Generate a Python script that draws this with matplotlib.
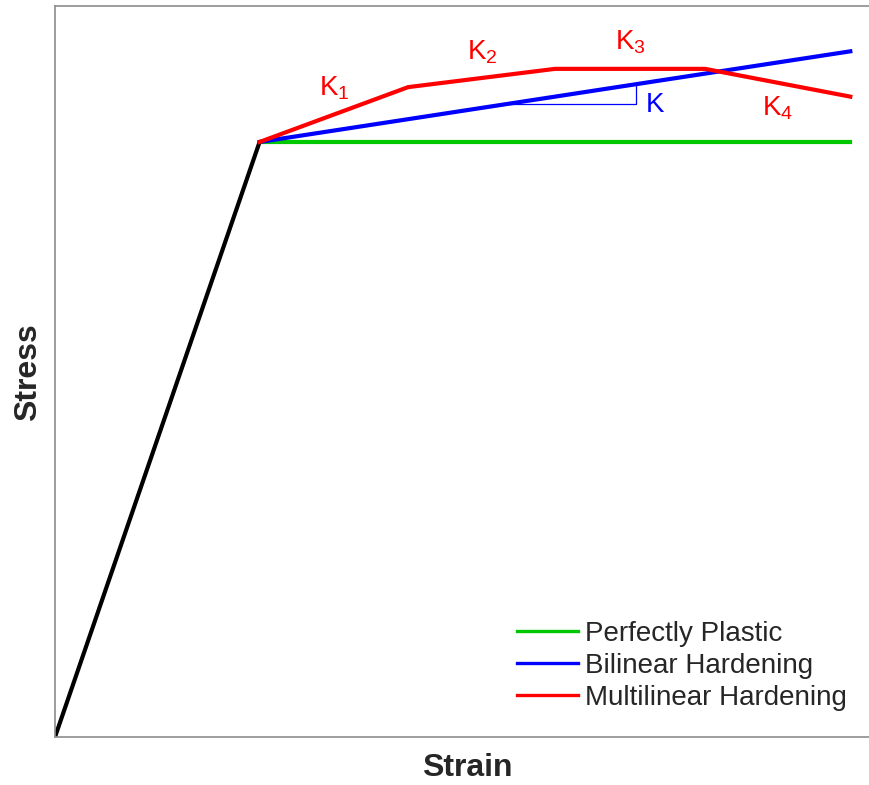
import numpy as np
import matplotlib
matplotlib.use("Agg")
import matplotlib.pyplot as plt
from matplotlib import font_manager

names = {f.name for f in font_manager.fontManager.ttflist}
k_font = 'Liberation Sans Narrow' if 'Liberation Sans Narrow' in names else 'Liberation Sans'

plt.rcParams['font.family'] = ['Liberation Sans', 'DejaVu Sans']
plt.rcParams['mathtext.fontset'] = 'custom'
plt.rcParams['mathtext.rm'] = k_font
plt.rcParams['mathtext.it'] = k_font
plt.rcParams['mathtext.bf'] = k_font + ':bold'

# --- data (normalised strain / stress) ---
elastic_strain = [0.0, 0.248]
elastic_stress = [0.0, 0.814]

plastic_strain = [0.248, 0.964]
plastic_stress = [0.814, 0.814]

bilinear_strain = [0.248, 0.964]
bilinear_stress = [0.814, 0.938]

multi_strain = [0.248, 0.428, 0.606, 0.788, 0.964]
multi_stress = [0.814, 0.889, 0.914, 0.914, 0.876]

# slope triangle on the bilinear line
tri_strain = [0.548, 0.704, 0.704]
tri_stress = [0.866, 0.866, 0.893]

k_labels = [r'K$_1$', r'K$_2$', r'K$_3$', r'K$_4$']
k_x = [0.339, 0.518, 0.697, 0.876]
k_y = [0.888, 0.937, 0.951, 0.860]

red = '#ff0000'
blue = '#0000ff'
green = '#00c800'

fig = plt.figure(figsize=(8.69, 7.85), dpi=100)
ax = fig.add_axes([55 / 869, 1 - 737 / 785, 825 / 869, 731 / 785])

ax.plot(elastic_strain, elastic_stress, color='black', lw=3, solid_capstyle='round')
ax.plot(plastic_strain, plastic_stress, color=green, lw=3, label='Perfectly Plastic')
ax.plot(bilinear_strain, bilinear_stress, color=blue, lw=3, label='Bilinear Hardening')
ax.plot(multi_strain, multi_stress, color=red, lw=3, label='Multilinear Hardening')
ax.plot(tri_strain, tri_stress, color=blue, lw=0.9)

for lab, x, y in zip(k_labels, k_x, k_y):
    ax.text(x, y, lab, color=red, fontsize=20, family=k_font, ha='center', va='center')
ax.text(0.727, 0.865, 'K', color=blue, fontsize=20, family=k_font, ha='center', va='center')

ax.set_xlim(0, 1)
ax.set_ylim(0, 1)
ax.set_xticks([])
ax.set_yticks([])
for s in ax.spines.values():
    s.set_color('#8c8c8c')
    s.set_linewidth(1.2)
ax.spines['right'].set_visible(False)

fig.text(467 / 869, 1 - 768 / 785, 'Strain', fontsize=23, fontweight='bold',
         color='#262626', ha='center', va='center')
fig.text(28 / 869, 1 - 372 / 785, 'Stress', fontsize=23, fontweight='bold',
         color='#262626', ha='center', va='center', rotation=90)

leg = ax.legend(loc='center left', bbox_to_anchor=(517 / 869, 1 - 666 / 785),
                bbox_transform=fig.transFigure, frameon=False, fontsize=20,
                handlelength=2.2, handletextpad=0.25, labelspacing=0.22,
                borderpad=0, borderaxespad=0)
for t in leg.get_texts():
    t.set_color('#262626')
for ln in leg.get_lines():
    ln.set_linewidth(2.4)

fig.savefig('out.png', dpi=100)
